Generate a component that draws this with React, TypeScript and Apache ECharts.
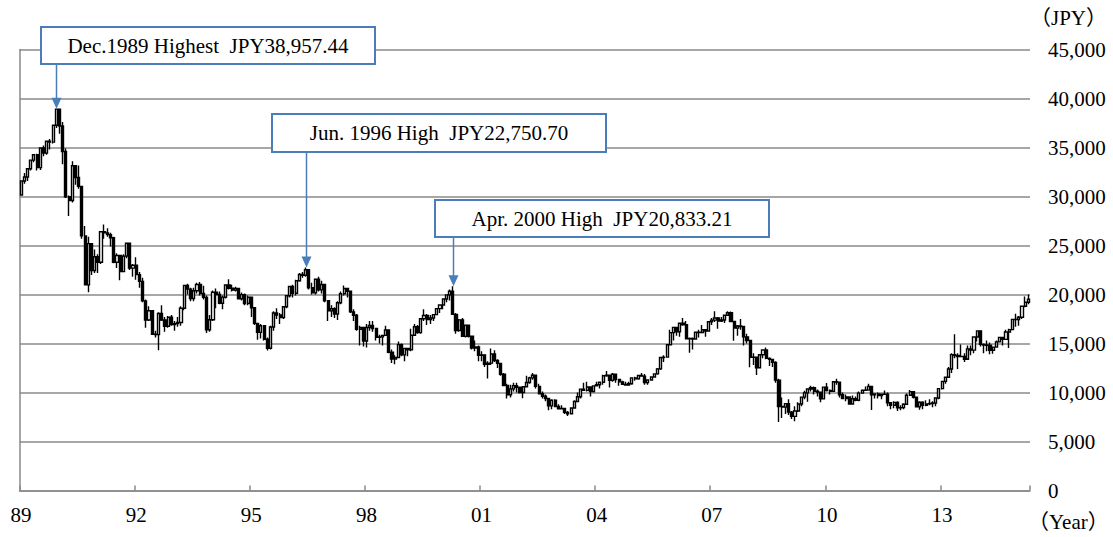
import React, { useEffect, useRef } from "react";
import * as echarts from "echarts";

const startYear = 1989;
const yearTickLabels = ["89", "92", "95", "98", "01", "04", "07", "10", "13"];
const yTicks = [0, 5000, 10000, 15000, 20000, 25000, 30000, 35000, 40000, 45000];

// Monthly Nikkei 225, Jan 1989 – Apr 2015
const opens = [
  30160,31581,31985,32839,33713,34266,32948,34954,34431,35636,35549,37269,
  38916,37189,34592,29980,29585,33131,31940,31036,25978,20984,25194,22454,
  23849,23293,26409,26292,26111,25790,23291,23986,22336,23916,25222,22687,
  22984,22023,21339,19346,17391,18348,15951,15910,18061,17399,16767,17684,
  16925,17024,17140,18591,20919,20552,19590,20380,21027,20106,19703,16408,
  17417,20229,19997,19112,19725,20974,20644,20449,20629,19564,19990,19076,
  19723,18650,17053,16140,16807,15437,14517,16678,18117,17913,17655,18744,
  19868,20813,20125,21407,22041,21956,22531,20693,20167,21556,20467,21020,
  19361,18330,18557,18003,19151,20069,20605,20331,18229,17888,16459,16636,
  15259,16628,16831,16527,15641,15671,15830,16379,14108,13406,13565,14884,
  13842,14500,14368,15837,16702,16112,17530,17862,17437,17606,17942,18558,
  18934,19540,19960,20337,17974,16332,17411,15727,16861,15747,14540,14649,
  13786,13844,12884,12999,13934,13262,12969,11861,10714,9775,10366,10697,
  10543,9997,10588,11025,11493,11764,10621,9877,9619,9383,8640,9216,
  8579,8340,8363,7973,7831,8425,9083,9563,10344,10219,10560,10101,
  10677,10784,11042,11715,11762,11236,11859,11326,11082,10824,10771,10899,
  11489,11388,11740,11669,11009,11277,11584,11900,12414,13574,13607,14872,
  16111,16650,16206,17060,16907,15468,15505,15457,16141,16128,16399,16274,
  17226,17383,17604,17288,17400,17876,18138,17249,16569,16786,16737,15681,
  15308,13592,13603,12526,13850,14339,13482,13377,13073,11260,8577,8512,
  8860,7994,7568,8110,8828,9523,9958,10357,10493,10133,10035,9346,
  10546,10198,10126,11090,11057,9769,9383,9537,8824,9369,9202,9937,
  10229,10238,10624,9755,9850,9694,9816,9833,8955,8700,8988,8434,
  8455,8803,9723,10084,9521,8543,9007,8695,8840,8870,8928,9446,
  10395,11139,11559,12398,13861,13775,13677,13668,13389,14456,14328,15662,
  16291,14915,14841,14828,14304,14632,15162,15621,15425,16174,16414,17460,
  17451,17674,18798,19207,
];

const closes = [
  31581,31985,32839,33713,34266,32948,34954,34431,35636,35549,37269,38916,
  37189,34592,29980,29585,33131,31940,31036,25978,20984,25194,22454,23849,
  23293,26409,26292,26111,25790,23291,23986,22336,23916,25222,22687,22984,
  22023,21339,19346,17391,18348,15951,15910,18061,17399,16767,17684,16925,
  17024,17140,18591,20919,20552,19590,20380,21027,20106,19703,16408,17417,
  20229,19997,19112,19725,20974,20644,20449,20629,19564,19990,19076,19723,
  18650,17053,16140,16807,15437,14517,16678,18117,17913,17655,18744,19868,
  20813,20125,21407,22041,21956,22531,20693,20167,21556,20467,21020,19361,
  18330,18557,18003,19151,20069,20605,20331,18229,17888,16459,16636,15259,
  16628,16831,16527,15641,15671,15830,16379,14108,13406,13565,14884,13842,
  14500,14368,15837,16702,16112,17530,17862,17437,17606,17942,18558,18934,
  19540,19960,20337,17974,16332,17411,15727,16861,15747,14540,14649,13786,
  13844,12884,12999,13934,13262,12969,11861,10714,9775,10366,10697,10543,
  9997,10588,11025,11493,11764,10621,9877,9619,9383,8640,9216,8579,
  8340,8363,7973,7831,8425,9083,9563,10344,10219,10560,10101,10677,
  10784,11042,11715,11762,11236,11859,11326,11082,10824,10771,10899,11489,
  11388,11740,11669,11009,11277,11584,11900,12414,13574,13607,14872,16111,
  16650,16206,17060,16907,15468,15505,15457,16141,16128,16399,16274,17226,
  17383,17604,17288,17400,17876,18138,17249,16569,16786,16737,15681,15308,
  13592,13603,12526,13850,14339,13482,13377,13073,11260,8577,8512,8860,
  7994,7568,8110,8828,9523,9958,10357,10493,10133,10035,9346,10546,
  10198,10126,11090,11057,9769,9383,9537,8824,9369,9202,9937,10229,
  10238,10624,9755,9850,9694,9816,9833,8955,8700,8988,8434,8455,
  8803,9723,10084,9521,8543,9007,8695,8840,8870,8928,9446,10395,
  11139,11559,12398,13861,13775,13677,13668,13389,14456,14328,15662,16291,
  14915,14841,14828,14304,14632,15162,15621,15425,16174,16414,17460,17451,
  17674,18798,19207,19520,
];

const highs = [
  31600,32397,32839,33713,34266,34363,34954,35213,35636,35870,37269,38957,
  38920,37600,34900,30100,33600,33192,33172,31036,27000,25900,25200,24600,
  24100,26409,27146,26750,26300,25900,24200,24000,24100,25300,25300,23100,
  23800,22300,21700,19500,18800,18400,16300,18200,18900,17700,17800,17900,
  17300,17700,18800,21000,21100,20700,20700,21200,21281,20900,19900,17900,
  20400,20600,20300,19900,21000,21552,21000,20800,20700,20200,20100,19900,
  19800,18700,17100,17000,16900,15600,16800,18300,18600,18100,18800,19900,
  20900,21000,21500,22200,22300,22750,22600,21200,21600,21800,21400,21100,
  19400,18900,18700,19300,20300,20910,20700,20400,18500,18000,16800,16700,
  17000,17300,17300,16600,15900,15900,16800,16400,14400,13800,15200,15000,
  14500,14500,16500,17000,16900,17600,18500,18000,17900,18000,18600,18950,
  19600,20000,20500,20833,18100,17500,17600,16900,16900,15800,15300,14800,
  14200,13900,13200,14500,14300,13400,13000,12000,10900,10800,11000,11000,
  10600,10600,11700,11600,11980,11800,10900,10100,9800,9400,9300,9300,
  8800,8700,8400,8100,8500,9200,10000,10400,11000,11100,10600,10700,
  11100,11100,11800,12200,11800,11990,11900,11300,11200,11100,11100,11500,
  11600,11800,12000,11900,11300,11600,11900,12500,13600,13800,14900,16400,
  16700,16700,17100,17600,17300,15600,15600,16200,16400,16900,16400,17300,
  17600,18300,17700,17700,17900,18300,18262,17300,16900,17500,16800,16000,
  15310,14000,13600,13900,14400,14600,13600,13400,13200,11400,9500,8900,
  9300,8100,8600,9000,9600,10170,10400,10700,10600,10300,10100,10600,
  10982,10300,11100,11408,11100,10000,9800,9600,9700,9600,10100,10300,
  10600,10900,10700,9900,10000,9900,10200,10000,9000,9100,9100,8700,
  8900,9900,10255,10100,9600,9100,9100,9200,9300,9100,9500,10400,
  11200,11600,12600,14000,15943,14000,14900,14000,14800,14800,15700,16320,
  16300,15000,15300,15100,14700,15300,15700,15700,16400,16500,17500,18030,
  17800,18800,19800,20000,
];

const lows = [
  30100,31300,31580,32650,33500,32650,32700,34100,34250,34800,35400,37000,
  36400,33300,29843,28002,29400,31200,30800,25700,20984,20222,22000,22200,
  22200,23100,25700,25900,24900,23200,22700,21456,22300,23700,22500,21800,
  21500,20700,19200,16600,17300,15900,15600,14309,17300,16200,16600,16800,
  16300,16700,16800,18400,20000,19300,19300,20100,19900,19500,16078,16200,
  17300,18600,19000,18500,19600,20500,20300,20300,19500,19400,18900,18900,
  17700,16900,15381,15500,15300,14295,14400,16300,17500,17000,17500,18600,
  19700,19700,19900,21300,21700,21800,20500,20000,20000,20300,20100,19200,
  17300,17700,17600,17400,19000,19900,19700,18100,17300,16300,14800,14700,
  14600,16300,16200,15300,15000,14800,15800,14000,13000,12879,13500,13700,
  13200,13700,14200,15800,16000,16000,17300,16900,17000,17300,17900,18100,
  18500,19200,19400,17900,16000,16200,15700,15600,15600,14400,14200,13200,
  13200,12600,11433,12800,13100,12500,11700,10700,9382,9500,10100,10000,
  9900,9420,10500,10900,11300,10400,9800,9400,9100,8200,8300,8500,
  8300,8300,7800,7603,7800,8400,9000,9400,10200,10100,9600,10000,
  10600,10400,10800,11600,10500,11100,11000,10700,10800,10700,10700,10800,
  11200,11300,11600,10800,10800,11200,11500,11800,12300,13100,13600,14800,
  15300,15800,15700,16800,15400,14045,14400,15400,15600,16100,15700,16200,
  16900,17200,16500,17200,17100,17800,17200,15273,15800,16400,14800,15000,
  12573,12800,11787,12600,13500,13400,12700,12600,11000,6994,7400,7800,
  7700,7300,7055,8000,8600,9300,9050,10100,9800,9600,9000,9300,
  10100,9800,10100,10800,9500,9300,9100,8800,8800,9100,9100,9900,
  10200,10200,8227,9400,9400,9300,9800,8600,8300,8400,8100,8200,
  8300,8800,9700,9400,8500,8238,8300,8600,8700,8500,8600,9300,
  10300,10900,11500,12000,13500,12400,13600,13100,13500,13800,14000,15200,
  14700,13995,14200,13900,13964,14600,15100,14800,15400,14529,16400,16700,
  16800,17500,18700,19000,
];

const annotationLabels = [
  "Dec.1989 Highest  JPY38,957.44",
  "Jun. 1996 High  JPY22,750.70",
  "Apr. 2000 High  JPY20,833.21",
];
const annotationIndex = [11, 89, 135];
const annotationValue = [38957.44, 22750.7, 20833.21];
const annotationBoxes = [
  [41, 27, 334, 37],
  [272, 114, 334, 38],
  [435, 200, 334, 37],
];

const categories = opens.map((_, i) => {
  const y = startYear + Math.floor(i / 12);
  const m = (i % 12) + 1;
  return `${y}-${m < 10 ? "0" + m : m}`;
});

const FONT = "'Liberation Serif', 'Times New Roman', serif";
const GRID_COLOR = "#8a8a8a";
const BLUE = "#4a7ebb";

export default function App() {
  const ref = useRef<HTMLDivElement>(null);
  useEffect(() => {
    document.body.style.margin = "0";
    if (!ref.current) return;
    const chart = echarts.init(ref.current, null, { renderer: "svg" });
    const data = opens.map((o, i) => [o, closes[i], lows[i], highs[i]]);
    chart.setOption({
      animation: false,
      backgroundColor: "#fff",
      textStyle: { fontFamily: FONT },
      grid: { left: 19.5, right: 83, top: 49.5, bottom: 46.5, containLabel: false },
      xAxis: {
        type: "category",
        data: categories,
        boundaryGap: true,
        axisLine: { show: true, lineStyle: { color: GRID_COLOR, width: 1.5 } },
        axisTick: {
          show: true,
          inside: true,
          length: 5,
          interval: (i: number) => i % 36 === 0,
          lineStyle: { color: GRID_COLOR, width: 1.5 },
        },
        axisLabel: {
          interval: (i: number) => i % 36 === 0,
          formatter: (_: string, i: number) => yearTickLabels[i / 36] ?? "",
          fontFamily: FONT,
          fontSize: 21,
          color: "#000",
          margin: 14,
        },
        splitLine: { show: false },
      },
      yAxis: [
        {
          type: "value",
          position: "right",
          min: yTicks[0],
          max: yTicks[yTicks.length - 1],
          interval: 5000,
          axisLine: { show: false },
          axisTick: { show: false },
          axisLabel: {
            fontFamily: FONT,
            fontSize: 21,
            color: "#000",
            margin: 18,
            align: "left",
            formatter: (v: number) => v.toLocaleString("en-US"),
          },
          splitLine: { show: true, lineStyle: { color: GRID_COLOR, width: 1.5 } },
        },
        {
          type: "value",
          position: "left",
          min: yTicks[0],
          max: yTicks[yTicks.length - 1],
          interval: 5000,
          axisLine: { show: true, lineStyle: { color: GRID_COLOR, width: 1.5 } },
          axisTick: { show: false },
          axisLabel: { show: false },
          splitLine: { show: false },
        },
      ],
      series: [
        {
          type: "candlestick",
          data,
          barWidth: 2.6,
          itemStyle: {
            color: "#ffffff",
            color0: "#000000",
            borderColor: "#000000",
            borderColor0: "#000000",
            borderWidth: 1.4,
          },
        },
      ],
    });

    const graphics: any[] = [
      {
        type: "text",
        x: 1030,
        y: 18,
        style: { text: "（JPY）", font: `21px ${FONT}, 'Noto Sans CJK JP'`, fill: "#000", textVerticalAlign: "middle" },
      },
      {
        type: "text",
        x: 1028,
        y: 522,
        style: { text: "（Year）", font: `21px ${FONT}, 'Noto Sans CJK JP'`, fill: "#000", textVerticalAlign: "middle" },
      },
    ];
    annotationLabels.forEach((label, k) => {
      const [bx, by, bw, bh] = annotationBoxes[k];
      const p = chart.convertToPixel({ seriesIndex: 0 }, [annotationIndex[k], annotationValue[k]]) as number[];
      const px = Math.round(p[0]) + 0.5;
      const tip = p[1];
      graphics.push({
        type: "line",
        z: 100,
        shape: { x1: px, y1: by + bh, x2: px, y2: tip - 9 },
        style: { stroke: BLUE, lineWidth: 1.5 },
      });
      graphics.push({
        type: "polygon",
        z: 100,
        shape: { points: [[px - 5, tip - 11], [px + 5, tip - 11], [px, tip]] },
        style: { fill: BLUE },
      });
      graphics.push({
        type: "rect",
        z: 100,
        shape: { x: bx, y: by, width: bw, height: bh },
        style: { fill: "#fff", stroke: BLUE, lineWidth: 2 },
      });
      graphics.push({
        type: "text",
        z: 101,
        x: bx + bw / 2,
        y: by + bh / 2,
        style: {
          text: label,
          font: `21px ${FONT}`,
          fill: "#000",
          textAlign: "center",
          textVerticalAlign: "middle",
        },
      });
    });
    chart.setOption({ graphic: graphics });

    return () => chart.dispose();
  }, []);
  return <div ref={ref} style={{ width: 1113, height: 537 }} />;
}
